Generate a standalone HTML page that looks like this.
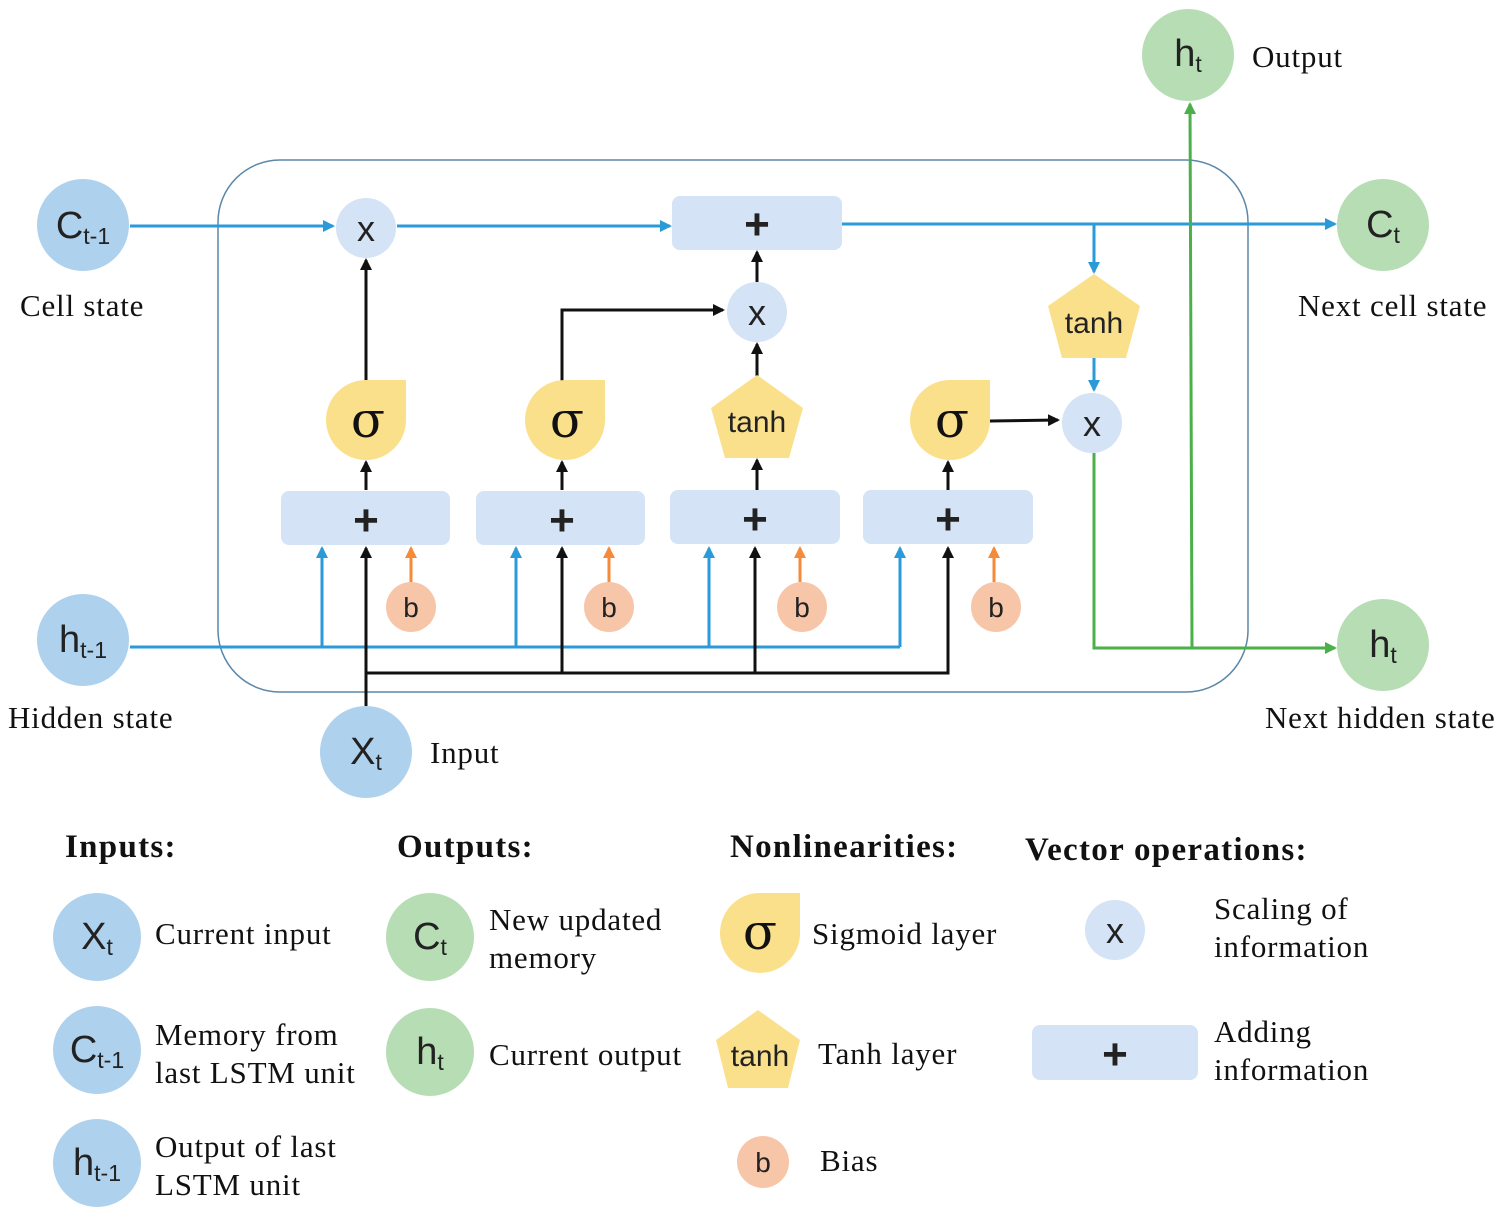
<!DOCTYPE html>
<html><head><meta charset="utf-8"><style>
html,body{margin:0;padding:0;background:#fff}
svg{display:block}
.s{font-family:"Liberation Serif",serif;font-size:31px;letter-spacing:0.8px;fill:#111}
.h{font-family:"Liberation Serif",serif;font-size:33px;letter-spacing:1.3px;font-weight:bold;fill:#111}
.n{font-family:"Liberation Sans","DejaVu Sans",sans-serif;fill:#222}
</style></head><body>
<svg width="1500" height="1219" viewBox="0 0 1500 1219" xmlns="http://www.w3.org/2000/svg">
<defs>
<marker id="ab" markerWidth="12" markerHeight="12" refX="10" refY="6" orient="auto" markerUnits="userSpaceOnUse"><path d="M0,0 L12,6 L0,12 Z" fill="#111"/></marker>
<marker id="abl" markerWidth="12" markerHeight="12" refX="10" refY="6" orient="auto" markerUnits="userSpaceOnUse"><path d="M0,0 L12,6 L0,12 Z" fill="#2a9ad8"/></marker>
<marker id="ag" markerWidth="12" markerHeight="12" refX="10" refY="6" orient="auto" markerUnits="userSpaceOnUse"><path d="M0,0 L12,6 L0,12 Z" fill="#4cb04a"/></marker>
<marker id="ao" markerWidth="12" markerHeight="12" refX="10" refY="6" orient="auto" markerUnits="userSpaceOnUse"><path d="M0,0 L12,6 L0,12 Z" fill="#f58a3a"/></marker>
</defs>

<rect x="218" y="160" width="1030" height="532" rx="62" fill="none" stroke="#5b87a8" stroke-width="1.5"/>

<g fill="none" stroke-width="3">
<line x1="130" y1="226" x2="333" y2="226" stroke="#2a9ad8" marker-end="url(#abl)"/>
<line x1="397" y1="226" x2="670" y2="226" stroke="#2a9ad8" marker-end="url(#abl)"/>
<line x1="842" y1="224" x2="1335" y2="224" stroke="#2a9ad8" marker-end="url(#abl)"/>
<line x1="1094" y1="224" x2="1094" y2="272" stroke="#2a9ad8" marker-end="url(#abl)"/>
<line x1="1094" y1="358" x2="1094" y2="390" stroke="#2a9ad8" marker-end="url(#abl)"/>
<line x1="130" y1="647" x2="900" y2="647" stroke="#2a9ad8"/>
<line x1="322" y1="647" x2="322" y2="548" stroke="#2a9ad8" marker-end="url(#abl)"/>
<line x1="516" y1="647" x2="516" y2="548" stroke="#2a9ad8" marker-end="url(#abl)"/>
<line x1="709" y1="647" x2="709" y2="548" stroke="#2a9ad8" marker-end="url(#abl)"/>
<line x1="900" y1="647" x2="900" y2="548" stroke="#2a9ad8" marker-end="url(#abl)"/>
<line x1="366" y1="706" x2="366" y2="548" stroke="#111" marker-end="url(#ab)"/>
<polyline points="366,673 948,673 948,548" stroke="#111" marker-end="url(#ab)"/>
<line x1="562" y1="673" x2="562" y2="548" stroke="#111" marker-end="url(#ab)"/>
<line x1="755" y1="673" x2="755" y2="548" stroke="#111" marker-end="url(#ab)"/>
<line x1="411" y1="582" x2="411" y2="548" stroke="#f58a3a" marker-end="url(#ao)"/>
<line x1="609" y1="582" x2="609" y2="548" stroke="#f58a3a" marker-end="url(#ao)"/>
<line x1="800" y1="582" x2="800" y2="548" stroke="#f58a3a" marker-end="url(#ao)"/>
<line x1="994" y1="582" x2="994" y2="548" stroke="#f58a3a" marker-end="url(#ao)"/>
<line x1="366" y1="490" x2="366" y2="462" stroke="#111" marker-end="url(#ab)"/>
<line x1="562" y1="490" x2="562" y2="462" stroke="#111" marker-end="url(#ab)"/>
<line x1="757" y1="490" x2="757" y2="460" stroke="#111" marker-end="url(#ab)"/>
<line x1="948" y1="490" x2="948" y2="462" stroke="#111" marker-end="url(#ab)"/>
<line x1="366" y1="382" x2="366" y2="260" stroke="#111" marker-end="url(#ab)"/>
<polyline points="562,382 562,310 723,310" stroke="#111" marker-end="url(#ab)"/>
<line x1="757" y1="378" x2="757" y2="344" stroke="#111" marker-end="url(#ab)"/>
<line x1="757" y1="282" x2="757" y2="252" stroke="#111" marker-end="url(#ab)"/>
<line x1="990" y1="421" x2="1058" y2="420" stroke="#111" marker-end="url(#ab)"/>
<polyline points="1094,453 1094,648 1335,648" stroke="#4cb04a" marker-end="url(#ag)"/>
<line x1="1192" y1="648" x2="1190" y2="104" stroke="#4cb04a" marker-end="url(#ag)"/>
</g>

<g fill="#d4e3f5">
<rect x="672" y="196" width="170" height="54" rx="8"/>
<rect x="281" y="491" width="169" height="54" rx="8"/>
<rect x="476" y="491" width="169" height="54" rx="8"/>
<rect x="670" y="490" width="170" height="54" rx="8"/>
<rect x="863" y="490" width="170" height="54" rx="8"/>
<rect x="1032" y="1025" width="166" height="55" rx="8"/>
</g>
<g class="n" font-size="44" font-weight="bold" text-anchor="middle" fill="#111">
<text x="757" y="239">+</text><text x="366" y="535">+</text><text x="562" y="535">+</text><text x="755" y="534">+</text><text x="948" y="534">+</text><text x="1115" y="1069">+</text>
</g>

<g fill="#d4e3f5">
<circle cx="366" cy="228" r="30"/><circle cx="757" cy="312" r="30"/><circle cx="1092" cy="423" r="30"/><circle cx="1115" cy="930" r="30"/>
</g>
<g class="n" font-size="36" text-anchor="middle">
<text x="366" y="241">x</text><text x="757" y="325">x</text><text x="1092" y="436">x</text><text x="1115" y="943">x</text>
</g>

<g fill="#fbe08c">
<path d="M366,380 L406,380 L406,420 A40,40 0 1 1 366,380 Z"/>
<path d="M565,380 L605,380 L605,420 A40,40 0 1 1 565,380 Z"/>
<path d="M950,380 L990,380 L990,420 A40,40 0 1 1 950,380 Z"/>
<path d="M758,893 L800,893 L800,932 A40,40 0 1 1 758,893 Z"/>
<polygon points="1094,274 1140,306 1126,358 1062,358 1048,306"/>
<polygon points="757,375 803,408 789,458 725,458 711,408"/>
<polygon points="758,1010 800,1040 788,1088 728,1088 716,1040"/>
</g>
<g font-family="'DejaVu Serif',serif" font-size="50" text-anchor="middle" fill="#111">
<text x="368" y="437">σ</text><text x="567" y="437">σ</text><text x="952" y="437">σ</text><text x="760" y="949">σ</text>
</g>
<g class="n" font-size="30" text-anchor="middle" fill="#111">
<text x="1094" y="333">tanh</text><text x="757" y="432">tanh</text><text x="760" y="1066">tanh</text>
</g>

<g fill="#f7c6a8">
<circle cx="411" cy="607" r="25"/><circle cx="609" cy="607" r="25"/><circle cx="802" cy="607" r="25"/><circle cx="996" cy="607" r="25"/><circle cx="763" cy="1162" r="26"/>
</g>
<g class="n" font-size="28" text-anchor="middle">
<text x="411" y="617">b</text><text x="609" y="617">b</text><text x="802" y="617">b</text><text x="996" y="617">b</text><text x="763" y="1172">b</text>
</g>

<g fill="#aed1ee">
<circle cx="83" cy="225" r="46"/><circle cx="83" cy="640" r="46"/><circle cx="366" cy="752" r="46"/>
<circle cx="97" cy="937" r="44"/><circle cx="97" cy="1050" r="44"/><circle cx="97" cy="1163" r="44"/>
</g>
<g fill="#b6ddb3">
<circle cx="1188" cy="55" r="46"/><circle cx="1383" cy="225" r="46"/><circle cx="1383" cy="645" r="46"/>
<circle cx="430" cy="937" r="44"/><circle cx="430" cy="1052" r="44"/>
</g>
<g class="n" font-size="38" text-anchor="middle">
<text x="83" y="238">C<tspan font-size="23" dy="6">t-1</tspan></text>
<text x="83" y="652">h<tspan font-size="23" dy="6">t-1</tspan></text>
<text x="366" y="764">X<tspan font-size="23" dy="6">t</tspan></text>
<text x="1188" y="66">h<tspan font-size="23" dy="6">t</tspan></text>
<text x="1383" y="237">C<tspan font-size="23" dy="6">t</tspan></text>
<text x="1383" y="657">h<tspan font-size="23" dy="6">t</tspan></text>
<text x="97" y="949">X<tspan font-size="23" dy="6">t</tspan></text>
<text x="97" y="1062">C<tspan font-size="23" dy="6">t-1</tspan></text>
<text x="97" y="1175">h<tspan font-size="23" dy="6">t-1</tspan></text>
<text x="430" y="949">C<tspan font-size="23" dy="6">t</tspan></text>
<text x="430" y="1064">h<tspan font-size="23" dy="6">t</tspan></text>
</g>

<g class="s">
<text x="20" y="316">Cell state</text>
<text x="8" y="728">Hidden state</text>
<text x="430" y="763">Input</text>
<text x="1252" y="67">Output</text>
<text x="1298" y="316">Next cell state</text>
<text x="1265" y="728">Next hidden state</text>
<text x="155" y="944">Current input</text>
<text x="155" y="1045">Memory from</text>
<text x="155" y="1083">last LSTM unit</text>
<text x="155" y="1157">Output of last</text>
<text x="155" y="1195">LSTM unit</text>
<text x="489" y="930">New updated</text>
<text x="489" y="968">memory</text>
<text x="489" y="1065">Current output</text>
<text x="812" y="944">Sigmoid layer</text>
<text x="818" y="1064">Tanh layer</text>
<text x="820" y="1171">Bias</text>
<text x="1214" y="919">Scaling of</text>
<text x="1214" y="957">information</text>
<text x="1214" y="1042">Adding</text>
<text x="1214" y="1080">information</text>
</g>
<g class="h">
<text x="65" y="857">Inputs:</text>
<text x="397" y="857">Outputs:</text>
<text x="730" y="857">Nonlinearities:</text>
<text x="1025" y="860">Vector operations:</text>
</g>
</svg>
</body></html>
